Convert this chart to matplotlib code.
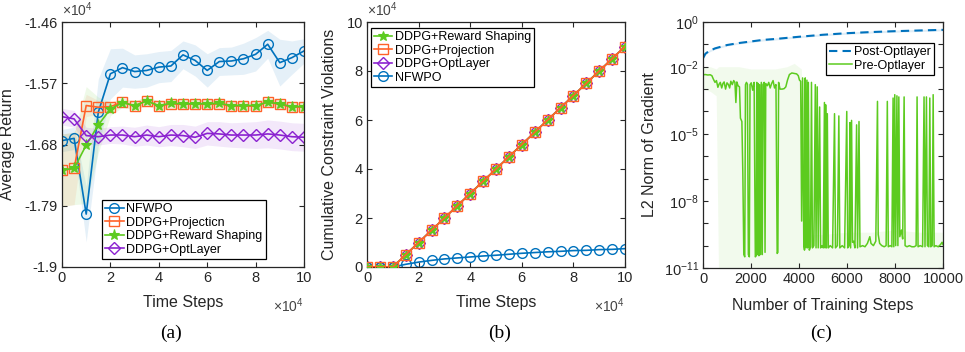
import numpy as np
import matplotlib
matplotlib.use("Agg")
import matplotlib.pyplot as plt
from matplotlib.ticker import FixedLocator, FuncFormatter

plt.rcParams["font.family"] = ["Liberation Sans", "DejaVu Sans"]
plt.rcParams["mathtext.fontset"] = "custom"
plt.rcParams["mathtext.rm"] = "Liberation Sans"
plt.rcParams["mathtext.it"] = "Liberation Sans:italic"

BLUE = "#0072BD"
ORANGE = "#FF6229"
GREEN = "#5CCB1F"
PURPLE = "#8B22D0"
INK = "#262626"

# ---- panel (a): average return, units of 1e4 ----
steps = np.arange(0, 10.5, 0.5)   # time steps (x 1e4)

ret_nfwpo = [-1.673, -1.669, -1.805, -1.622, -1.553, -1.542, -1.549, -1.547, -1.541, -1.539,
             -1.519, -1.529, -1.547, -1.531, -1.530, -1.526, -1.518, -1.500, -1.533, -1.524, -1.512]
ret_proj = [-1.726, -1.723, -1.610, -1.613, -1.612, -1.604, -1.611, -1.601, -1.611, -1.607,
            -1.608, -1.607, -1.608, -1.607, -1.611, -1.611, -1.611, -1.604, -1.608, -1.613, -1.613]
ret_shaping = [-1.726, -1.723, -1.681, -1.645, -1.616, -1.605, -1.610, -1.602, -1.610, -1.606,
               -1.607, -1.607, -1.607, -1.606, -1.610, -1.610, -1.610, -1.604, -1.607, -1.612, -1.612]
ret_optlayer = [-1.630, -1.634, -1.664, -1.666, -1.663, -1.663, -1.666, -1.663, -1.666, -1.663,
                -1.664, -1.667, -1.660, -1.661, -1.663, -1.663, -1.663, -1.661, -1.663, -1.666, -1.667]

std_nfwpo = [0.020, 0.020, 0.050, 0.060, 0.045, 0.035, 0.030, 0.030, 0.028, 0.028, 0.025,
             0.028, 0.030, 0.025, 0.025, 0.028, 0.030, 0.025, 0.042, 0.030, 0.022]
std_proj = [0.065, 0.065, 0.020, 0.012, 0.008, 0.008, 0.008, 0.008, 0.008, 0.008, 0.008,
            0.008, 0.008, 0.008, 0.008, 0.008, 0.008, 0.008, 0.008, 0.008, 0.008]
std_shaping = [0.065, 0.065, 0.105, 0.050, 0.012, 0.008, 0.008, 0.008, 0.008, 0.008, 0.008,
               0.008, 0.008, 0.008, 0.008, 0.008, 0.008, 0.008, 0.008, 0.008, 0.008]
std_optlayer = [0.015, 0.015, 0.015, 0.015, 0.015, 0.016, 0.017, 0.018, 0.018, 0.019, 0.020,
                0.020, 0.021, 0.022, 0.022, 0.023, 0.024, 0.025, 0.025, 0.025, 0.025]

# ---- panel (b): cumulative violations, units of 1e4 ----
viol_ddpg = [0, 0, 0, 0.5, 1.0, 1.5, 2.0, 2.5, 3.0, 3.5, 4.0, 4.5, 5.0, 5.5, 6.0,
             6.5, 7.0, 7.5, 8.0, 8.5, 9.0]
viol_nfwpo = [0, 0, 0, 0.11, 0.20, 0.27, 0.33, 0.37, 0.41, 0.45, 0.48, 0.52, 0.56,
              0.59, 0.62, 0.64, 0.67, 0.68, 0.71, 0.72, 0.75]

# ---- panel (c): gradient norms (log10) ----
post_steps = [0, 100, 250, 500, 1000, 1500, 2000, 2500, 3000, 4000, 5000, 6000, 7000, 8000, 9000, 10000]
post_log10 = [-1.62, -1.42, -1.30, -1.18, -1.03, -0.94, -0.87, -0.80, -0.76, -0.66, -0.57,
              -0.50, -0.45, -0.41, -0.38, -0.35]

pre_steps = [0, 100, 200, 300, 370, 430, 500, 560, 620, 670, 720, 780, 830, 880, 940, 1000,
             1060, 1110, 1160, 1220, 1280, 1330, 1370, 1410, 1460, 1520, 1560, 1620, 1660,
             1700, 1740, 1770, 1810, 1850, 1890, 1930, 1960, 2010, 2070, 2130, 2180, 2215,
             2240, 2270, 2300, 2330, 2360, 2400, 2430, 2470, 2500, 2550, 2585, 2615, 2680,
             2740, 2800, 2860, 2920, 2980, 3040, 3090, 3120, 3150, 3210, 3300, 3380, 3450,
             3520, 3600, 3700, 3800, 3900, 3970, 4020, 4070, 4110, 4150, 4200, 4230, 4260,
             4290, 4330, 4360, 4390, 4430, 4480, 4520, 4560, 4620, 4680, 4710, 4760, 4800,
             4860, 4900, 4960, 5010, 5060, 5085, 5110, 5145, 5180, 5220, 5300, 5400, 5480,
             5520, 5600, 5660, 5700, 5800, 5900, 5990, 6030, 6090, 6120, 6150, 6190, 6230,
             6280, 6330, 6400, 6440, 6500, 6540, 6650, 6750, 6850, 6950, 7000, 7100, 7200,
             7270, 7300, 7360, 7450, 7550, 7630, 7680, 7720, 7800, 7870, 7920, 7950, 7990,
             8030, 8080, 8120, 8160, 8200, 8270, 8320, 8380, 8420, 8500, 8600, 8700, 8800,
             8880, 8920, 8960, 9050, 9150, 9210, 9250, 9310, 9350, 9410, 9450, 9490, 9550,
             9590, 9630, 9700, 9800, 9900, 9960, 10000]
pre_log10 = [-2.36, -2.35, -2.37, -2.36, -2.40, -2.55, -2.70, -2.62, -2.92, -2.78, -2.70,
             -2.95, -2.75, -2.68, -3.00, -2.72, -2.80, -2.95, -2.65, -2.80, -2.62, -2.70,
             -3.60, -2.68, -2.85, -2.90, -4.30, -4.45, -6.80, -10.40, -10.50, -2.80, -2.70,
             -2.78, -10.40, -10.50, -2.80, -2.72, -3.05, -2.70, -10.50, -10.45, -2.70,
             -10.40, -2.75, -10.45, -2.80, -10.40, -2.70, -10.40, -2.80, -2.70, -10.30,
             -2.75, -2.85, -2.70, -2.95, -2.75, -2.62, -2.95, -2.80, -10.35, -10.30, -2.70,
             -3.00, -3.00, -2.98, -2.90, -2.60, -2.35, -2.28, -2.30, -2.32, -2.40, -2.60,
             -2.65, -8.90, -2.50, -10.00, -10.20, -2.50, -10.10, -2.60, -10.10, -2.70,
             -10.20, -10.05, -2.70, -10.10, -10.00, -2.80, -10.10, -2.90, -10.10, -3.80,
             -10.10, -10.00, -10.10, -3.60, -10.10, -3.70, -10.10, -4.10, -10.10, -10.00,
             -10.10, -4.10, -10.10, -10.00, -4.20, -10.10, -10.00, -10.10, -4.00, -10.10,
             -10.00, -4.50, -10.10, -4.40, -9.85, -9.80, -10.10, -4.60, -10.10, -4.45,
             -10.05, -10.00, -10.05, -9.90, -9.60, -9.90, -10.00, -9.80, -3.55, -9.50,
             -9.90, -10.00, -10.05, -10.00, -3.55, -10.05, -10.00, -10.05, -3.40, -10.05,
             -3.25, -10.00, -3.30, -10.00, -3.35, -9.60, -9.30, -9.70, -3.35, -10.00,
             -10.05, -10.00, -10.05, -10.05, -10.00, -3.35, -10.05, -10.00, -10.05, -3.35,
             -10.05, -3.35, -10.00, -10.05, -3.40, -10.05, -10.00, -3.25, -10.05, -10.00,
             -10.05, -9.95, -9.85, -9.95]

band_steps = [0, 300, 550, 650, 1000, 1500, 2000, 3000, 3500, 3800, 4100, 4250, 5000,
              6000, 7000, 8000, 9000, 10000]
band_hi = [-2.0, -2.0, -2.1, -2.0, -2.0, -2.0, -2.1, -2.1, -2.0, -1.85, -2.1, -9.5, -9.5,
           -9.4, -9.4, -9.3, -9.4, -9.4]
band_lo = [-3.0, -3.1, -3.3, -11.5, -11.5, -11.5, -11.5, -11.5, -11.5, -11.5, -11.5, -11.5,
           -11.5, -11.5, -11.5, -11.5, -11.5, -11.5]

W, H = 965, 352
fig = plt.figure(figsize=(W / 100, H / 100), dpi=100)


def px_axes(left, right, top, bottom):
    return fig.add_axes([left / W, 1 - bottom / H, (right - left) / W, (bottom - top) / H])


def style(ax):
    ax.tick_params(direction="in", top=True, right=True, length=3.5, width=0.8,
                   labelsize=10.5, pad=3, colors=INK)
    for s in ax.spines.values():
        s.set_linewidth(0.9)
        s.set_color(INK)


LBL = 11.5
LEG = 9

# ---------------- (a) ----------------
axa = px_axes(62, 304, 22, 267)
for y, sd, c in [(ret_nfwpo, std_nfwpo, BLUE), (ret_proj, std_proj, ORANGE),
                 (ret_shaping, std_shaping, GREEN), (ret_optlayer, std_optlayer, PURPLE)]:
    y = np.array(y)
    sd = np.array(sd)
    axa.fill_between(steps, y - sd, y + sd, color=c, alpha=0.1, lw=0)
mk = dict(mfc="none", ms=7, mew=1.0, lw=1.2)
l1, = axa.plot(steps, ret_nfwpo, "-o", color=BLUE, **mk)
l2, = axa.plot(steps, ret_proj, "-s", color=ORANGE, **mk)
l3, = axa.plot(steps, ret_shaping, "-*", color=GREEN, mfc=GREEN, ms=8, mew=0.8, lw=1.2)
l4, = axa.plot(steps, ret_optlayer, "-D", color=PURPLE, mfc="none", ms=6.5, mew=1.0, lw=1.2)
axa.set_xlim(0, 10)
axa.set_ylim(-1.9, -1.46)
axa.set_xticks([0, 2, 4, 6, 8, 10])
axa.set_yticks([-1.9, -1.79, -1.68, -1.57, -1.46])
axa.yaxis.set_major_formatter(FuncFormatter(lambda v, p: f"{v:g}"))
style(axa)
axa.set_xlabel("Time Steps", fontsize=LBL, color=INK)
axa.xaxis.set_label_coords(0.5, -0.115)
axa.set_ylabel("Average Return", fontsize=LBL, color=INK)
axa.yaxis.set_label_coords(-0.195, 0.5)
axa.legend([l1, l2, l3, l4],
           ["NFWPO", "DDPG+Projecticn", "DDPG+Reward Shaping", "DDPG+OptLayer"],
           loc="lower left", bbox_to_anchor=(0.165, 0.033), fontsize=LEG,
           frameon=True, fancybox=False, edgecolor="black", framealpha=1,
           handlelength=1.5, handletextpad=0.2, borderpad=0.25, labelspacing=0.12,
           borderaxespad=0, numpoints=1).get_frame().set_linewidth(0.9)

# ---------------- (b) ----------------
axb = px_axes(367, 625, 22, 267)
b_rs, = axb.plot(steps, viol_ddpg, "-*", color=GREEN, mfc=GREEN, ms=7, mew=0.8, lw=1.2, zorder=3)
b_opt, = axb.plot(steps, viol_ddpg, "-D", color=PURPLE, mfc="none", ms=6, mew=1.0, lw=1.2, zorder=2)
b_proj, = axb.plot(steps, viol_ddpg, "-s", color=ORANGE, mfc="none", ms=6.5, mew=1.0, lw=1.2, zorder=4)
b_nf, = axb.plot(steps, viol_nfwpo, "-o", color=BLUE, **mk)
axb.set_xlim(0, 10)
axb.set_ylim(0, 10)
axb.set_xticks([0, 2, 4, 6, 8, 10])
axb.set_yticks([0, 2, 4, 6, 8, 10])
style(axb)
axb.set_xlabel("Time Steps", fontsize=LBL, color=INK)
axb.xaxis.set_label_coords(0.5, -0.115)
axb.set_ylabel("Cumulative Constraint Violations", fontsize=LBL, color=INK)
axb.yaxis.set_label_coords(-0.116, 0.5)
axb.legend([b_rs, b_proj, b_opt, b_nf],
           ["DDPG+Reward Shaping", "DDPG+Projection", "DDPG+OptLayer", "NFWPO"],
           loc="upper left", bbox_to_anchor=(0.014, 0.976), fontsize=LEG,
           frameon=True, fancybox=False, edgecolor="black", framealpha=1,
           handlelength=1.5, handletextpad=0.2, borderpad=0.25, labelspacing=0.12,
           borderaxespad=0, numpoints=1).get_frame().set_linewidth(0.9)

# exponent labels for (a) and (b)
for ax in (axa, axb):
    ax.text(0.0, 1.012, r"$\times10^{4}$", transform=ax.transAxes, fontsize=10,
            ha="left", va="bottom", color="#444444")
    ax.text(1.0, -0.12, r"$\times10^{4}$", transform=ax.transAxes, fontsize=10,
            ha="right", va="top", color="#444444")

# ---------------- (c) ----------------
axc = px_axes(703, 943, 22, 268)
axc.set_yscale("log")
axc.fill_between(band_steps, 10.0 ** np.array(band_lo), 10.0 ** np.array(band_hi),
                 color=GREEN, alpha=0.08, lw=0)
post = 10.0 ** np.array(post_log10)
axc.fill_between(post_steps, post * 0.9, post * 1.12, color=BLUE, alpha=0.12, lw=0)
c_post, = axc.plot(post_steps, post, "--", color=BLUE, lw=1.5, dashes=(4, 2.5))
c_pre, = axc.plot(pre_steps, 10.0 ** np.array(pre_log10), "-", color=GREEN, lw=1.1)
axc.set_xlim(0, 10000)
axc.set_ylim(1e-11, 1e0)
axc.set_xticks([0, 2000, 4000, 6000, 8000, 10000])
axc.yaxis.set_major_locator(FixedLocator([10.0 ** k for k in range(-11, 1)]))
axc.yaxis.set_minor_locator(FixedLocator([]))
shown = {0, -2, -5, -8, -11}


def fmt_log(v, p):
    k = int(round(np.log10(v)))
    return rf"$10^{{{k}}}$" if k in shown else ""


axc.yaxis.set_major_formatter(FuncFormatter(fmt_log))
style(axc)
axc.set_xlabel("Number of Training Steps", fontsize=LBL, color=INK)
axc.xaxis.set_label_coords(0.5, -0.12)
axc.set_ylabel("L2 Norm of Gradient", fontsize=LBL, color=INK)
axc.yaxis.set_label_coords(-0.19, 0.5)
axc.legend([c_post, c_pre], ["Post-Optlayer", "Pre-Optlayer"],
           loc="upper right", bbox_to_anchor=(0.9625, 0.915), fontsize=LEG,
           frameon=True, fancybox=False, edgecolor="black", framealpha=1,
           handlelength=1.8, handletextpad=0.2, borderpad=0.25, labelspacing=0.12,
           borderaxespad=0).get_frame().set_linewidth(0.9)

# captions
for x, lab in [(171, "(a)"), (500, "(b)"), (821, "(c)")]:
    fig.text(x / W, 1 - 333 / H, lab, fontsize=14, family="Liberation Serif",
             ha="center", va="center")

fig.savefig("out.png", dpi=100)
